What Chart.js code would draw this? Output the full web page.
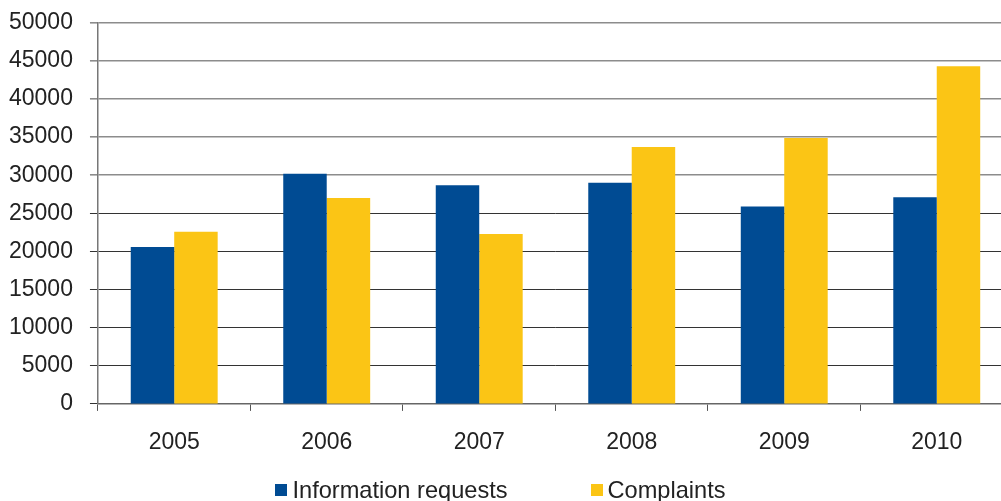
<!DOCTYPE html>
<html>
<head>
<meta charset="utf-8">
<script src="https://cdn.jsdelivr.net/npm/chart.js@4"></script>
<style>
  html, body { margin: 0; padding: 0; background: #fff; overflow: hidden; }
  #wrap { width: 1021px; height: 509px; position: relative; margin-left: -8px; margin-top: -8px; }
  #legend {
    position: absolute; left: 0; top: 476px; width: 1001px;
    display: flex; justify-content: center; gap: 83px;
    font-family: 'Liberation Sans', Arial, sans-serif; font-size: 23.6px; color: #222;
    line-height: 28px;
  }
  #legend span.item { display: flex; align-items: center; }
  #legend span.box { width: 12px; height: 12px; margin-right: 5px; display: inline-block; }
</style>
</head>
<body>
<div id="wrap"><canvas id="chart"></canvas></div>
<div id="legend"></div>
<script>
// Jahre und Werte
const years = ['2005', '2006', '2007', '2008', '2009', '2010'];
const infoRequests = [20600, 30200, 28700, 29000, 25900, 27100];
const complaints = [22600, 27000, 22300, 33700, 34900, 44300];
const seriesNames = ['Information requests', 'Complaints'];
const seriesColors = ['#004b93', '#fbc515'];

const fontFam = 'Liberation Sans, Arial, sans-serif';

const ctx = document.getElementById('chart').getContext('2d');
const chart = new Chart(ctx, {
  type: 'bar',
  data: {
    labels: years,
    datasets: [{
      label: seriesNames[0],
      data: infoRequests,
      backgroundColor: seriesColors[0]
    }, {
      label: seriesNames[1],
      data: complaints,
      backgroundColor: seriesColors[1]
    }]
  },
  options: {
    responsive: true,
    maintainAspectRatio: false,
    animation: false,
    categoryPercentage: 0.57,
    barPercentage: 1,
    layout: { padding: { left: 0, top: 1.5, right: 0, bottom: 26.5 } },
    scales: {
      x: {
        grid: {
          offset: true,
          drawOnChartArea: false,
          color: '#555',
          tickLength: 7
        },
        border: { color: '#666', width: 1.5 },
        ticks: {
          color: '#222',
          padding: 18,
          font: { family: fontFam, size: 23 }
        }
      },
      y: {
        min: 0,
        max: 50000,
        ticks: {
          stepSize: 5000,
          color: '#222',
          padding: 17,
          font: { family: fontFam, size: 23 },
          callback: (v) => String(v)
        },
        grid: {
          color: (c) => (c.tick && c.tick.value > 25000 ? '#8c8c8c' : '#333'),
          lineWidth: (c) => (c.tick && c.tick.value > 25000 ? 1.6 : 1),
          tickLength: 8
        },
        border: { color: '#777', width: 1.5 }
      }
    },
    plugins: {
      legend: { display: false },
      tooltip: { enabled: false }
    }
  }
});

// Legende unter dem Diagramm
const legendEl = document.getElementById('legend');
chart.data.datasets.forEach((ds) => {
  const item = document.createElement('span');
  item.className = 'item';
  const box = document.createElement('span');
  box.className = 'box';
  box.style.background = ds.backgroundColor;
  item.appendChild(box);
  item.appendChild(document.createTextNode(ds.label));
  legendEl.appendChild(item);
});
</script>
</body>
</html>
